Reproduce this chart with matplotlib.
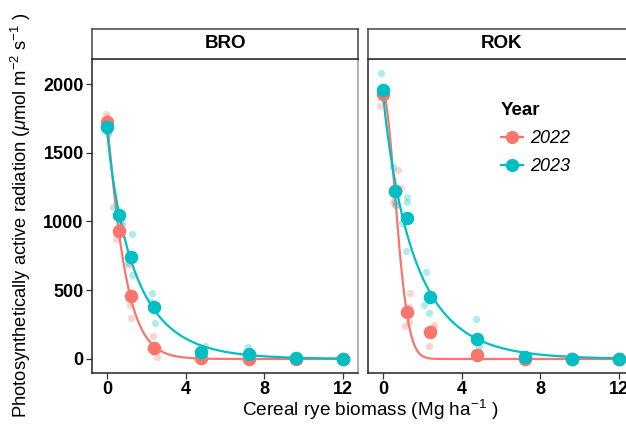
import numpy as np
import matplotlib
matplotlib.use("Agg")
import matplotlib.pyplot as plt
from matplotlib.lines import Line2D

plt.rcParams['font.family'] = ['Liberation Sans', 'DejaVu Sans']
plt.rcParams['mathtext.fontset'] = 'custom'
plt.rcParams['mathtext.rm'] = 'Liberation Sans'
plt.rcParams['mathtext.it'] = 'Liberation Sans:italic'

# --- data ---
levels = [0, 0.6, 1.2, 2.4, 4.8, 7.2, 9.6, 12]
sites = ["BRO", "ROK"]
years = ["2022", "2023"]
colors = {"2022": "#F8766D", "2023": "#00BFC4"}

# mean PAR per biomass level
bro_2022_mean = [1725, 928, 455, 83, 10, 2, 0, 0]
bro_2023_mean = [1690, 1047, 744, 376, 53, 36, 5, 2]
rok_2022_mean = [1927, 1225, 340, 194, 29, 2, 0, 0]
rok_2023_mean = [1956, 1222, 1025, 448, 143, 17, 2, 1]

# individual plots (measured biomass, PAR)
bro_2022_x = [-0.05, 0.0, 0.05, 0.45, 0.75, 0.6, 1.15, 1.2, 1.1, 2.35, 2.55, 2.45, 4.8, 4.9, 7.2, 7.3, 9.6, 12]
bro_2022_y = [1780, 1762, 1650, 870, 986, 935, 393, 296, 680, 167, 17, 65, 15, 5, 5, 0, 0, 0]
bro_2023_x = [-0.05, 0.0, 0.05, 0.32, 0.6, 0.7, 1.29, 1.05, 1.29, 2.3, 2.25, 2.45, 5.0, 4.8, 4.9, 7.15, 7.2, 9.6, 12]
bro_2023_y = [1738, 1690, 1640, 1108, 1050, 985, 906, 696, 611, 482, 417, 260, 97, 40, 20, 90, 15, 8, 3]
rok_2022_x = [-0.15, 0.0, 0.05, 0.75, 0.9, 0.5, 0.6, 1.4, 1.3, 1.1, 1.3, 2.6, 2.55, 2.35, 4.7, 4.8, 4.9, 7.2, 9.6, 12]
rok_2022_y = [1840, 1960, 1980, 1375, 1241, 1144, 1120, 478, 380, 242, 271, 247, 223, 97, 53, 10, 25, 2, 0, 0]
rok_2023_x = [-0.1, 0.0, 0.05, 0.52, 0.6, 0.65, 1.2, 1.2, 0.95, 1.15, 2.2, 2.1, 2.35, 4.75, 4.9, 4.8, 7.2, 7.3, 9.6, 12]
rok_2023_y = [2078, 1900, 1890, 1398, 1150, 1120, 1180, 1144, 987, 788, 634, 393, 332, 291, 90, 50, 25, 10, 0, 0]

means = {("BRO", "2022"): bro_2022_mean, ("BRO", "2023"): bro_2023_mean,
         ("ROK", "2022"): rok_2022_mean, ("ROK", "2023"): rok_2023_mean}
reps = {("BRO", "2022"): (bro_2022_x, bro_2022_y), ("BRO", "2023"): (bro_2023_x, bro_2023_y),
        ("ROK", "2022"): (rok_2022_x, rok_2022_y), ("ROK", "2023"): (rok_2023_x, rok_2023_y)}


def fit_decay(x, y):
    # a * exp(-(x/c)^d), grid search over c, d; a by least squares
    x = np.asarray(x, float)
    y = np.asarray(y, float)
    best = None
    for c in np.linspace(0.2, 5, 241):
        for d in np.linspace(0.6, 3.5, 146):
            g = np.exp(-(x / c) ** d)
            a = (g @ y) / (g @ g)
            err = np.sum((y - a * g) ** 2)
            if best is None or err < best[0]:
                best = (err, a, c, d)
    return best[1:]


fig = plt.figure(figsize=(6.26, 4.24), dpi=100)
W, H = 626, 424
panel_left = {"BRO": 92, "ROK": 368}
panel_w = 266
top, bottom, strip_top = 59, 373, 29

xs = np.linspace(0, 12, 400)
axes = {}
for site in sites:
    l = panel_left[site]
    ax = fig.add_axes([l / W, 1 - bottom / H, panel_w / W, (bottom - top) / H])
    axes[site] = ax
    for yr in years:
        col = colors[yr]
        a, c, d = fit_decay(levels, means[(site, yr)])
        ax.plot(xs, a * np.exp(-(xs / c) ** d), color=col, lw=1.6, zorder=2)
        rx, ry = reps[(site, yr)]
        ax.scatter(rx, ry, s=28, color=col, alpha=0.3, lw=0, zorder=3)
    for yr in years:
        ax.scatter(levels, means[(site, yr)], s=95, color=colors[yr], lw=0, zorder=4)

    ax.set_xlim(-0.76, 12.76)
    ax.set_ylim(-102, 2182)
    ax.set_xticks([0, 4, 8, 12])
    ax.set_yticks([0, 500, 1000, 1500, 2000])
    for s in ["left", "bottom"]:
        ax.spines[s].set_color("#222222")
        ax.spines[s].set_linewidth(1.1)
    for s in ["top", "right"]:
        ax.spines[s].set_color("#9a9a9a")
        ax.spines[s].set_linewidth(1.1)
    ax.tick_params(axis="both", length=4, width=0.9, color="#333333",
                   labelsize=13, pad=2)
    for t in ax.get_xticklabels() + ax.get_yticklabels():
        t.set_fontweight("bold")
    if site == "ROK":
        ax.tick_params(axis="y", left=False, labelleft=False)

    # facet strip
    sax = fig.add_axes([l / W, 1 - top / H, panel_w / W, (top - strip_top) / H])
    sax.set_xticks([])
    sax.set_yticks([])
    for s in sax.spines.values():
        s.set_color("#444444")
        s.set_linewidth(1.1)
    sax.spines["bottom"].set_color("#222222")
    sax.text(0.5, 0.5, site, ha="center", va="center", fontsize=13.5, fontweight="bold",
             transform=sax.transAxes)

handles = [Line2D([0], [0], color=colors[yr], lw=1.6, marker="o", markersize=9.5,
                  markeredgewidth=0) for yr in years]
leg = axes["ROK"].legend(handles, years, title="Year", loc="upper left",
                         bbox_to_anchor=(501 / W, 1 - 102 / H), bbox_transform=fig.transFigure,
                         frameon=False, fontsize=13, handlelength=1.2, handletextpad=0.4,
                         labelspacing=0.62, borderaxespad=0, borderpad=0)
leg.get_title().set_fontweight("bold")
leg.get_title().set_fontsize(13.5)
leg._legend_box.align = "left"
for t in leg.get_texts():
    t.set_fontstyle("italic")

fig.text(370 / W, 1 - 410 / H, r"Cereal rye biomass (Mg ha$^{-1}$ )", ha="center", va="center",
         fontsize=13.7)
fig.text(21 / W, 1 - 215 / H, r"Photosynthetically active radiation ($\mu$mol m$^{-2}$ s$^{-1}$ )",
         ha="center", va="center", rotation=90, fontsize=13.2)

fig.savefig("out.png", dpi=100)
